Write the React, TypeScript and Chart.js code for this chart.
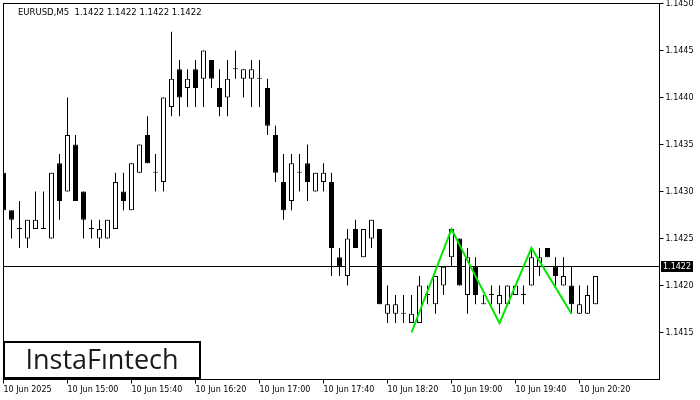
import React, { useEffect, useRef } from "react";
import { Chart, registerables } from "chart.js";

Chart.register(...registerables);

// 5-minute candles, 10 Jun 2025 from 14:20
const opens = [
  1.1432, 1.1428, 1.1426, 1.1425, 1.1426, 1.1426, 1.1425, 1.1433, 1.1430, 1.1435,
  1.1430, 1.1426, 1.1425, 1.1425, 1.1426, 1.1430, 1.1428, 1.1432, 1.1436, 1.1432,
  1.1431, 1.1439, 1.1443, 1.1441, 1.1443, 1.1442, 1.1444, 1.1441, 1.1440, 1.1443,
  1.1442, 1.1442, 1.1442, 1.1441, 1.1436, 1.1431, 1.1429, 1.1432, 1.1433, 1.1430,
  1.1431, 1.1431, 1.1423, 1.1421, 1.1426, 1.1423, 1.1425, 1.1426, 1.1417, 1.1417,
  1.1417, 1.1416, 1.1416, 1.1419, 1.1418, 1.1420, 1.1423, 1.1425, 1.1419, 1.1422,
  1.1418, 1.1419, 1.1418, 1.1418, 1.1419, 1.1419, 1.1420, 1.1422, 1.1424, 1.1422,
  1.1420, 1.1420, 1.1417, 1.1417, 1.1418,
];
const highs = [
  1.1432, 1.1428, 1.1429, 1.1427, 1.1430, 1.1430, 1.1432, 1.1434, 1.1440, 1.1436,
  1.1430, 1.1427, 1.1427, 1.1427, 1.1432, 1.1432, 1.1433, 1.1435, 1.1438, 1.1434,
  1.1440, 1.1447, 1.1444, 1.1443, 1.1444, 1.1445, 1.1444, 1.1443, 1.1444, 1.1445,
  1.1443, 1.1444, 1.1444, 1.1442, 1.1437, 1.1434, 1.1434, 1.1434, 1.1435, 1.1432,
  1.1433, 1.1432, 1.1424, 1.1426, 1.1427, 1.1426, 1.1427, 1.1426, 1.1420, 1.1419,
  1.1419, 1.1419, 1.1421, 1.1420, 1.1421, 1.1422, 1.1426, 1.1425, 1.1424, 1.1423,
  1.1419, 1.1420, 1.1420, 1.1420, 1.1420, 1.1420, 1.1424, 1.1424, 1.1424, 1.1423,
  1.1423, 1.1422, 1.1420, 1.1420, 1.1421,
];
const lows = [
  1.1428, 1.1425, 1.1424, 1.1424, 1.1426, 1.1426, 1.1425, 1.1427, 1.1430, 1.1429,
  1.1425, 1.1425, 1.1424, 1.1425, 1.1426, 1.1428, 1.1428, 1.1432, 1.1433, 1.1430,
  1.1430, 1.1438, 1.1438, 1.1439, 1.1439, 1.1439, 1.1441, 1.1438, 1.1438, 1.1442,
  1.1440, 1.1439, 1.1439, 1.1436, 1.1431, 1.1427, 1.1428, 1.1430, 1.1429, 1.1430,
  1.1430, 1.1421, 1.1421, 1.1420, 1.1424, 1.1423, 1.1424, 1.1418, 1.1416, 1.1416,
  1.1416, 1.1416, 1.1416, 1.1418, 1.1417, 1.1419, 1.1422, 1.1420, 1.1417, 1.1418,
  1.1418, 1.1418, 1.1417, 1.1418, 1.1419, 1.1418, 1.1420, 1.1421, 1.1423, 1.1420,
  1.1420, 1.1417, 1.1417, 1.1417, 1.1418,
];
const closes = [
  1.1428, 1.1427, 1.1426, 1.1427, 1.1427, 1.1426, 1.1432, 1.1429, 1.1436, 1.1429,
  1.1427, 1.1426, 1.1426, 1.1427, 1.1431, 1.1429, 1.1433, 1.1435, 1.1433, 1.1432,
  1.1440, 1.1442, 1.1440, 1.1442, 1.1441, 1.1445, 1.1442, 1.1439, 1.1442, 1.1443,
  1.1443, 1.1443, 1.1442, 1.1437, 1.1432, 1.1428, 1.1433, 1.1432, 1.1431, 1.1432,
  1.1432, 1.1424, 1.1422, 1.1425, 1.1424, 1.1426, 1.1427, 1.1418, 1.1418, 1.1418,
  1.1417, 1.1417, 1.1420, 1.1419, 1.1421, 1.1422, 1.1426, 1.1420, 1.1423, 1.1419,
  1.1418, 1.1419, 1.1419, 1.1420, 1.1420, 1.1419, 1.1423, 1.1423, 1.1423, 1.1421,
  1.1421, 1.1418, 1.1418, 1.1419, 1.1421,
];

// triple-bottom pattern line (bar index, price)
const patternIdx = [51, 56, 62, 66, 71];
const patternPrice = [1.1415, 1.1426, 1.1416, 1.1424, 1.1417];

// axes
const timeTickIdx = [0, 8, 16, 24, 32, 40, 48, 56, 64, 72];
const timeTickLabels = [
  "10 Jun 2025", "10 Jun 15:00", "10 Jun 15:40", "10 Jun 16:20", "10 Jun 17:00",
  "10 Jun 17:40", "10 Jun 18:20", "10 Jun 19:00", "10 Jun 19:40", "10 Jun 20:20",
];
const priceTicks = [1.1415, 1.1420, 1.1425, 1.1430, 1.1435, 1.1440, 1.1445, 1.1450];
const priceMin = 1.141;
const priceMax = 1.145;
const xMax = 82;
const currentPrice = 1.1422;
const headerText = "EURUSD,M5  1.1422 1.1422 1.1422 1.1422";
const logoText = "InstaFıntech";

const AXIS_FONT = "DejaVu Sans";
const AXIS_SIZE = 8;

const decorPlugin = {
  id: "decor",
  beforeDatasetsDraw(chart: any) {
    const { ctx, chartArea: a, scales } = chart;
    const y = Math.floor(scales.y.getPixelForValue(currentPrice)) + 0.5;
    ctx.save();
    ctx.strokeStyle = "#000";
    ctx.lineWidth = 1;
    ctx.beginPath();
    ctx.moveTo(a.left, y);
    ctx.lineTo(a.right, y);
    ctx.stroke();
    ctx.restore();
  },
  afterDraw(chart: any) {
    const { ctx, chartArea: a, scales } = chart;
    ctx.save();
    // frame
    ctx.strokeStyle = "#000";
    ctx.lineWidth = 1;
    ctx.strokeRect(a.left, a.top, a.right - a.left, a.bottom - a.top);
    // current price box
    const y = Math.floor(scales.y.getPixelForValue(currentPrice)) + 0.5;
    ctx.fillStyle = "#000";
    ctx.fillRect(a.right + 1.5, y - 5.5, 32, 11);
    ctx.fillStyle = "#fff";
    ctx.font = `${AXIS_SIZE}px '${AXIS_FONT}'`;
    ctx.textBaseline = "middle";
    ctx.textAlign = "left";
    ctx.fillText(currentPrice.toFixed(4), a.right + 3.5, y + 0.5);
    // header
    ctx.fillStyle = "#000";
    ctx.font = `8.5px '${AXIS_FONT}'`;
    ctx.textBaseline = "alphabetic";
    ctx.fillText(headerText, 18, 15);
    // logo
    ctx.fillStyle = "#fff";
    ctx.fillRect(3, 341, 198, 38);
    ctx.strokeStyle = "#000";
    ctx.lineWidth = 2;
    ctx.strokeRect(4, 342, 196, 36);
    ctx.fillStyle = "#1a1a1a";
    ctx.font = "500 27px 'Open Sans'";
    ctx.textAlign = "center";
    ctx.textBaseline = "alphabetic";
    ctx.fillText(logoText, 102, 369);
    ctx.restore();
  },
};

export default function App() {
  const ref = useRef<HTMLCanvasElement>(null);
  useEffect(() => {
    const idx = opens.map((_, i) => i);
    const wickData = idx.map((i) => ({ x: i, y: [lows[i], highs[i]] }));
    const bodyData = idx.map((i) => ({ x: i, y: [opens[i], closes[i]] }));
    const bodyColors = idx.map((i) => (closes[i] >= opens[i] ? "#ffffff" : "#000000"));
    const patternData = patternIdx.map((x, k) => ({ x, y: patternPrice[k] }));

    const axisCommon = {
      grid: {
        drawOnChartArea: false,
        drawTicks: true,
        tickLength: 4,
        color: "#000",
        tickColor: "#000",
        tickWidth: 1,
        offset: false,
      },
      border: { display: true, color: "#000", width: 1 },
    };

    const chart = new Chart(ref.current as HTMLCanvasElement, {
      type: "bar",
      data: {
        datasets: [
          {
            type: "line",
            label: "pattern",
            data: patternData,
            borderColor: "#00e600",
            borderWidth: 2,
            pointRadius: 0,
            fill: false,
            order: 0,
          } as any,
          {
            type: "bar",
            label: "bodies",
            data: bodyData,
            backgroundColor: bodyColors,
            borderColor: "#000",
            borderWidth: 1,
            borderSkipped: false,
            barThickness: 5,
            minBarLength: 1,
            grouped: false,
            inflateAmount: 0,
            order: 1,
          } as any,
          {
            type: "bar",
            label: "wicks",
            data: wickData,
            backgroundColor: "#000",
            borderWidth: 0,
            barThickness: 1,
            grouped: false,
            inflateAmount: 0,
            order: 2,
          } as any,
        ],
      },
      options: {
        responsive: false,
        maintainAspectRatio: false,
        devicePixelRatio: 1,
        animation: false,
        events: [],
        layout: { padding: { left: 3.5, top: 3.5, right: 0, bottom: 0 } },
        plugins: { legend: { display: false }, tooltip: { enabled: false } },
        scales: {
          x: {
            type: "linear",
            position: "bottom",
            min: 0,
            max: xMax,
            offset: false,
            afterBuildTicks: (s: any) => {
              s.ticks = timeTickIdx.map((v) => ({ value: v }));
            },
            afterFit: (s: any) => {
              s.height = 20.5;
              s.paddingLeft = 0;
              s.paddingRight = 0;
            },
            ticks: {
              autoSkip: false,
              maxRotation: 0,
              minRotation: 0,
              align: "start",
              padding: 1.5,
              color: "#000",
              font: { family: AXIS_FONT, size: AXIS_SIZE },
              callback: (v: any) => {
                const k = timeTickIdx.indexOf(Number(v));
                return k >= 0 ? timeTickLabels[k] : null;
              },
            },
            ...axisCommon,
          },
          y: {
            type: "linear",
            position: "right",
            min: priceMin,
            max: priceMax,
            afterBuildTicks: (s: any) => {
              s.ticks = priceTicks.map((v) => ({ value: v }));
            },
            afterFit: (s: any) => {
              s.width = 40.5;
              s.paddingTop = 0;
              s.paddingBottom = 0;
            },
            ticks: {
              padding: 2,
              color: "#000",
              font: { family: AXIS_FONT, size: AXIS_SIZE },
              callback: (v: any) => Number(v).toFixed(4),
            },
            ...axisCommon,
          },
        },
      } as any,
      plugins: [decorPlugin],
    });
    return () => chart.destroy();
  }, []);

  return (
    <div style={{ position: "fixed", left: 0, top: 0, width: 700, height: 400, background: "#fff" }}>
      <canvas ref={ref} width={700} height={400} style={{ display: "block", width: 700, height: 400 }} />
    </div>
  );
}
